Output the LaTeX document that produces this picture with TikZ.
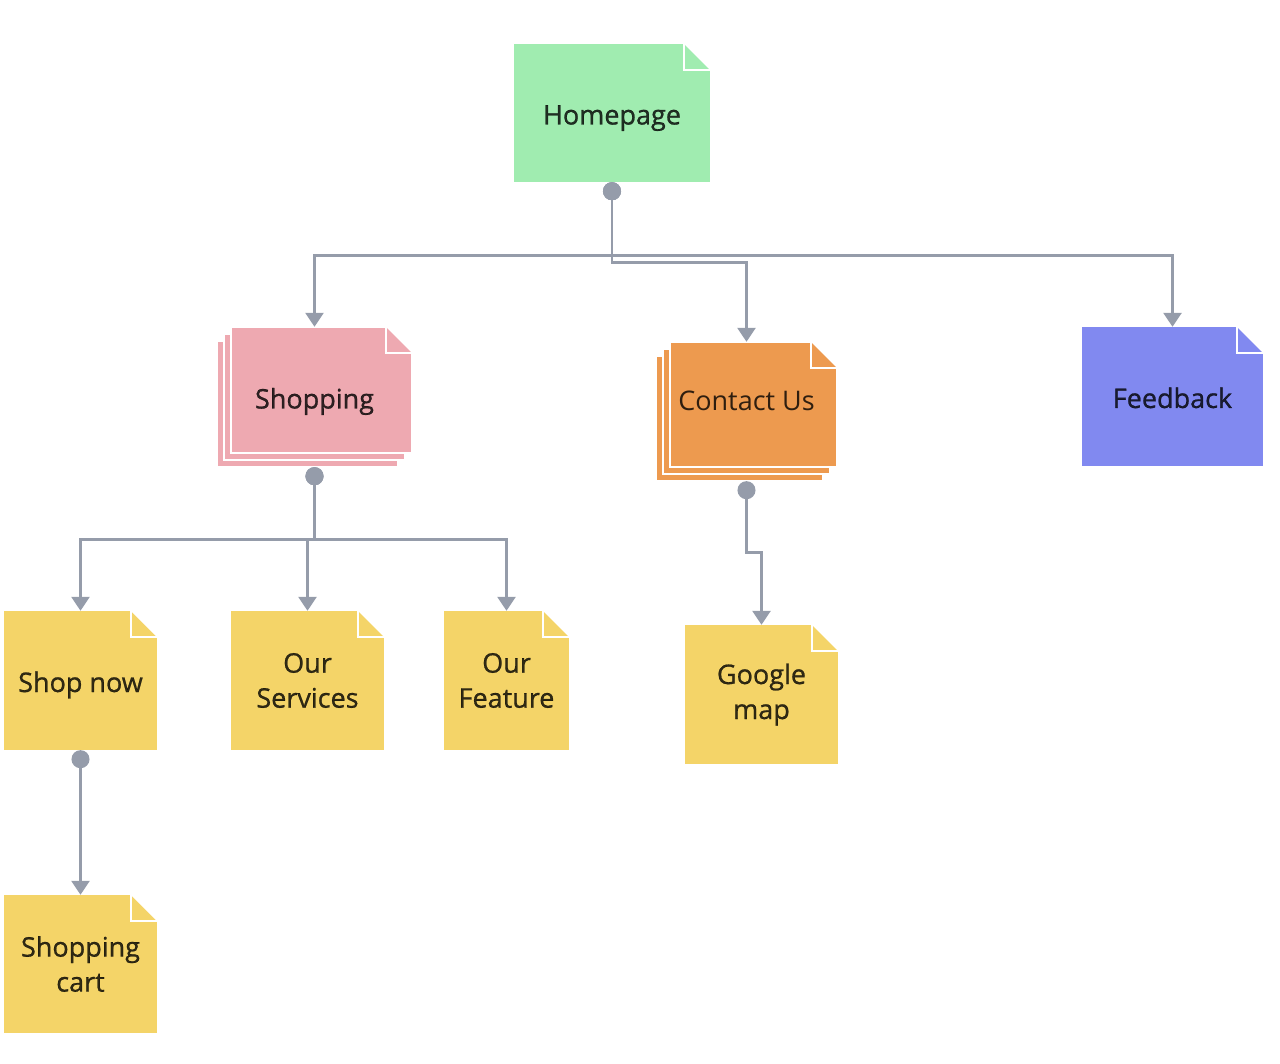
\documentclass[tikz,border=0pt]{standalone}
\usepackage{fontspec}
\setmainfont{Open Sans}
\newfontfamily\notefont{Open Sans}[FakeBold=0.8]
\usetikzlibrary{arrows.meta,calc}

\definecolor{homegreen}{HTML}{A0ECB0}
\definecolor{shoppink}{HTML}{EEA9B1}
\definecolor{contactorange}{HTML}{ED9A4F}
\definecolor{feedblue}{HTML}{8189F0}
\definecolor{pageyellow}{HTML}{F4D468}
\definecolor{linkgray}{HTML}{959CAA}

\tikzset{
  fold/.style={path picture={
      \fill[white] (path picture bounding box.north east) -- ++(-26pt,0pt) -- ++(26pt,-26pt) -- cycle;
      \draw[white, line width=2.5pt] ($(path picture bounding box.north east)+(-26pt,0pt)$) -- ++(0pt,-26pt) -- ++(26pt,0pt);
  }},
  note/.style={fill=#1, fold},
  stack/.style={path picture={
      \coordinate (sw) at (path picture bounding box.south west);
      \coordinate (ne) at (path picture bounding box.north east);
      \filldraw[fill=#1, draw=white, line width=2pt] (sw) rectangle ($(ne)+(-14pt,-14pt)$);
      \filldraw[fill=#1, draw=white, line width=2pt] ($(sw)+(7pt,7pt)$) rectangle ($(ne)+(-7pt,-7pt)$);
      \filldraw[fill=#1, draw=white, line width=2pt] ($(sw)+(14pt,14pt)$) rectangle (ne);
      \fill[white] (ne) -- ++(-26pt,0pt) -- ++(26pt,-26pt) -- cycle;
      \draw[white, line width=2.5pt] ($(ne)+(-26pt,0pt)$) -- ++(0pt,-26pt) -- ++(26pt,0pt);
  }},
  oneline/.style={text height=23pt, text depth=0pt},
  link/.style={draw=linkgray, line width=2.8pt,
    {Circle[length=18pt]}-{Triangle[width=18pt,length=14pt]}},
}

\begin{document}
\begin{tikzpicture}[x=1pt, y=-1pt]

      \useasboundingbox (0,0) rectangle (1280,1064);

      \begin{scope}[every node/.style={inner sep=0pt, align=center, text=black, text opacity=.8,
          font=\notefont\fontsize{27}{35}\selectfont, minimum height=139pt}]
        \node (home)     at (612,113)     [note=homegreen, oneline, minimum width=196pt, minimum height=138pt] {Homepage};
        \node (shopping) at (314.5,397)   [stack=shoppink, oneline, minimum width=195pt, minimum height=140pt] {Shopping};
        \node (contact)  at (746.5,411.5) [stack=contactorange, minimum width=181pt, text height=20pt, text depth=21pt,
          font=\rmfamily\fontsize{27}{35}\selectfont] {Contact Us};
        \node (feedback) at (1172.5,396.5) [note=feedblue, oneline, minimum width=181pt] {Feedback};
        \node (shopnow)  at (80.5,680.5)  [note=pageyellow, oneline, minimum width=153pt] {Shop now};
        \node (services) at (307.5,680.5) [note=pageyellow, minimum width=153pt] {Our\\Services};
        \node (feature)  at (506.5,680.5) [note=pageyellow, minimum width=125pt] {Our\\Feature};
        \node (gmap)     at (761.5,694.5) [note=pageyellow, minimum width=153pt] {Google\\map};
        \node (cart)     at (80.5,964)    [note=pageyellow, minimum width=153pt, minimum height=138pt] {Shopping\\cart};
      \end{scope}

      \begin{scope}[every path/.style={link}]
        \path (home.south) -- ([yshift=-73pt]home.south) -| (shopping.north);
        \path (home.south) -- ([yshift=-73pt]home.south) -| (feedback.north);
        \path (home.south) -- ([yshift=-80pt]home.south) -| (contact.north);
        \path (shopping.south) -- ([yshift=-72pt]shopping.south) -| (shopnow.north);
        \path (shopping.south) -- ([yshift=-72pt]shopping.south) -| (services.north);
        \path (shopping.south) -- ([yshift=-72pt]shopping.south) -| (feature.north);
        \path (contact.south) -- ([yshift=-71pt]contact.south) -| (gmap.north);
        \path (shopnow.south) -- (cart.north);
      \end{scope}

    \end{tikzpicture}
\end{document}
